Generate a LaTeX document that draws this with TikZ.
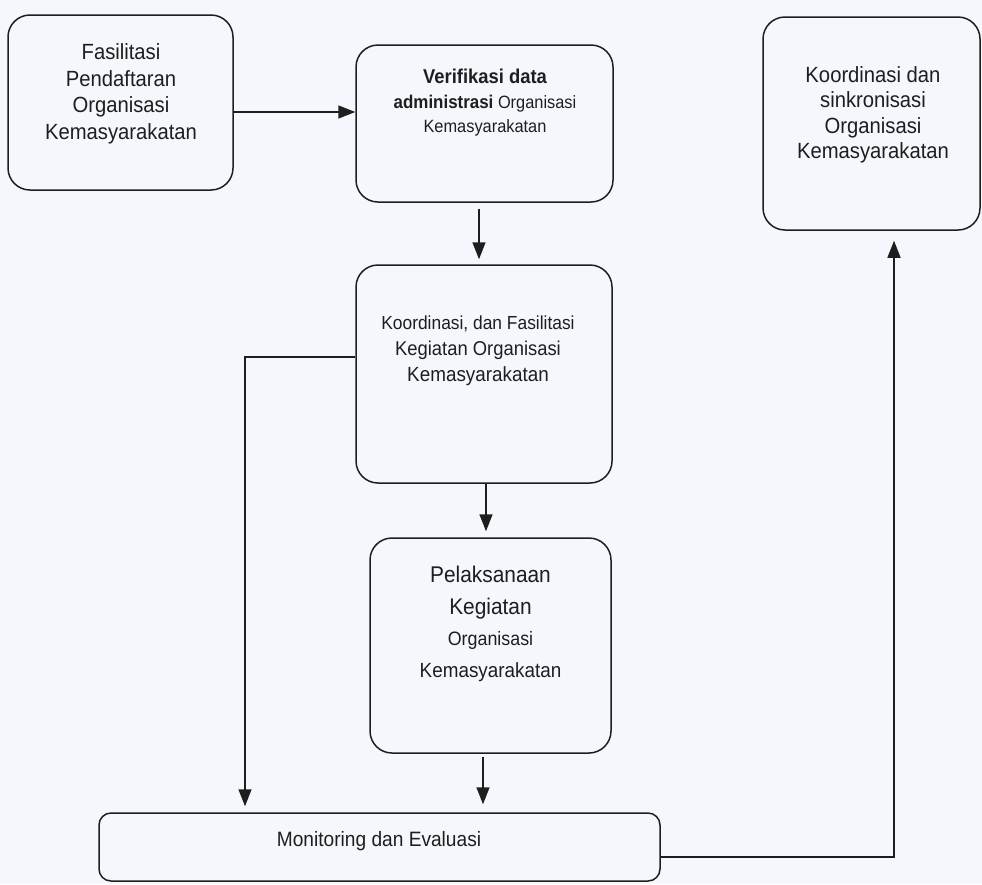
\documentclass[tikz,border=0pt]{standalone}
\usepackage{fontspec}
\setmainfont{Liberation Sans}[FakeStretch=0.92]
\usetikzlibrary{arrows.meta}
\definecolor{latar}{RGB}{244,248,252}
\definecolor{garis}{RGB}{30,30,30}

\begin{document}
\begin{tikzpicture}[x=1pt,y=-1pt,
  kotak/.style={draw=garis, line width=1.5pt, rounded corners=22pt, inner sep=0pt},
  teks/.style={align=center, text=garis, inner sep=0pt},
  panah/.style={draw=garis, line width=1.5pt, -{Triangle[width=13pt,length=17pt]}}]
\fill[latar] (0,0) rectangle (982,884);
% kotak
\node[kotak, minimum width=225pt, minimum height=175pt] (fasilitasi) at (120.5,102.5){};
\node[kotak, minimum width=257pt, minimum height=157pt] (verifikasi) at (484.5,123.5){};
\node[kotak, minimum width=217pt, minimum height=213pt] (sinkron) at (871.5,123.5){};
\node[kotak, minimum width=256pt, minimum height=218pt] (koordinasi) at (484,374){};
\node[kotak, minimum width=241pt, minimum height=215pt] (pelaksanaan) at (490.5,645.5){};
\node[kotak, rounded corners=12pt, minimum width=561pt, minimum height=68pt] (monitoring) at (379.5,847){};
% teks
\node[teks, font=\fontsize{22}{26.5}\selectfont] (fasilitasi-t) at (121,94)
  {Fasilitasi\\Pendaftaran\\Organisasi\\Kemasyarakatan};
\node[teks, font=\fontsize{17.8}{24.5}\selectfont] (verifikasi-t) at (485,103)
  {{\bfseries\fontsize{20}{24.5}\selectfont Verifikasi data}\\{\bfseries\fontsize{18.4}{24.5}\selectfont administrasi} Organisasi\\Kemasyarakatan};
\node[teks, font=\fontsize{22}{25.5}\selectfont] (sinkron-t) at (873,115)
  {Koordinasi dan\\sinkronisasi\\Organisasi\\Kemasyarakatan};
\node[teks, font=\fontsize{20.5}{26}\selectfont] (koordinasi-t) at (478,351)
  {{\fontsize{18.9}{26}\selectfont Koordinasi, dan Fasilitasi}\\{\fontsize{20}{26}\selectfont Kegiatan Organisasi}\\Kemasyarakatan};
\node[teks, font=\fontsize{20.5}{31.5}\selectfont] (pelaksanaan-t) at (490.5,624)
  {{\fontsize{22.7}{31.5}\selectfont Pelaksanaan}\\{\fontsize{22.7}{31.5}\selectfont Kegiatan}\\{\fontsize{19.4}{31.5}\selectfont Organisasi}\\Kemasyarakatan};
\node[teks, font=\fontsize{20.8}{24}\selectfont] (monitoring-t) at (379,841) {Monitoring dan Evaluasi};
% panah
\coordinate (belok) at (245,357);
\coordinate (sudut) at (894,857);
\draw[panah] ([yshift=-9.5pt]fasilitasi.east) -- ([yshift=-9.5pt]fasilitasi.east -| verifikasi.west);
\draw[panah, shorten >=5pt] ([xshift=-5.5pt,yshift=-6pt]verifikasi.south) -- ([xshift=-5.5pt]verifikasi.south |- koordinasi.north);
\draw[panah, shorten >=6pt] ([xshift=2pt]koordinasi.south) -- ([xshift=2pt]koordinasi.south |- pelaksanaan.north);
\draw[panah, shorten >=8pt] ([xshift=-7.5pt,yshift=-3pt]pelaksanaan.south) -- ([xshift=-7.5pt]pelaksanaan.south |- monitoring.north);
\draw[panah, shorten >=6pt] ([yshift=17pt]koordinasi.west) -- (belok) -- (belok |- monitoring.north);
\draw[panah, shorten >=10pt] ([yshift=-10pt]monitoring.east) -- (sudut) -- (sudut |- sinkron.south);
\end{tikzpicture}
\end{document}
